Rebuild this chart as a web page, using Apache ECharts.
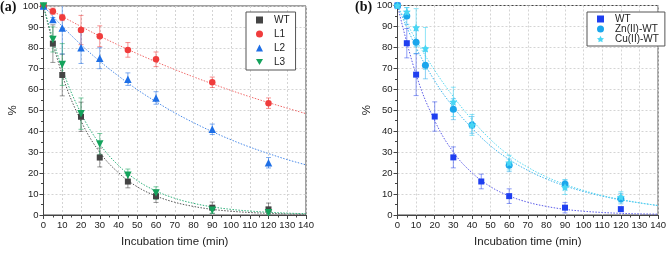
<!DOCTYPE html>
<html>
<head>
<meta charset="utf-8">
<script src="https://cdn.jsdelivr.net/npm/echarts@6/dist/echarts.min.js"></script>
<style>
    html, body { margin: 0; padding: 0; background: #fff; }
    #chart { width: 669px; height: 253px; }
</style>
</head>
<body>
<div id="chart"></div>
<script>
// panel (a)
const timesA = [0, 5, 10, 20, 30, 45, 60, 90, 120];
const wtA = [100, 82, 67, 47, 27.5, 16, 9, 3.5, 2.7];
const wtAErr = [0, 9, 10, 7, 4.5, 3, 3, 2.7, 3];
const l1 = [100, 97.5, 94.5, 88.5, 85.5, 79, 74.5, 63.5, 53.5];
const l1Err = [0, 1.5, 1.5, 7, 5, 3.5, 3.5, 2.5, 2.5];
const l2 = [100, 93.5, 89.5, 80, 75, 65, 56, 41, 25];
const l2Err = [0, 1, 12.5, 7.5, 5, 3, 3, 2.5, 2.5];
const l3 = [100, 84, 72, 48.5, 34, 19, 10.5, 2.3, 1.1];
const l3Err = [0, 6, 10, 7.5, 5, 3, 3, 1.5, 1];

// panel (b)
const timesWtB = [0, 5, 10, 20, 30, 45, 60, 90, 120];
const timesMetal = [0, 5, 10, 15, 30, 40, 60, 90, 120];
const wtB = [100, 82, 67, 47, 27.5, 16, 9, 3.5, 2.8];
const wtBErr = [0, 7, 10, 7, 5, 3.5, 3.5, 2.5, 0];
const zn = [100, 95, 82.5, 71.5, 50.5, 43, 23.7, 14.8, 7.8];
const znErr = [0, 4, 5.5, 6.5, 5, 4, 3, 2, 2.5];
const cu = [100, 97, 89.5, 79.5, 54, 43, 25, 13.3, 8.6];
const cuErr = [0, 2, 9, 10, 7, 5, 3.5, 3.5, 2.5];

// fitted curves, every 10 min
const fitX = [0, 10, 20, 30, 40, 50, 60, 70, 80, 90, 100, 110, 120, 130, 140];
const wtFit = [100, 67, 45, 30, 20.2, 13.5, 9.1, 6.1, 4.1, 2.7, 1.8, 1.2, 0.8, 0.55, 0.4];
const l1Fit = [100, 95, 90.2, 85.6, 81.3, 77.2, 73.3, 69.6, 66.1, 62.8, 59.6, 56.6, 53.8, 51.1, 48.5];
const l2Fit = [100, 90.3, 81.5, 73.6, 66.5, 60, 54.2, 48.9, 44.2, 39.9, 36, 32.5, 29.4, 26.5, 24];
const l3Fit = [100, 70, 48.7, 34, 23.7, 16.5, 11.5, 8, 5.6, 3.9, 2.7, 1.9, 1.3, 0.9, 0.6];
const znFit = [100, 80, 64, 51.5, 41.5, 33, 26.5, 21.3, 17.2, 13.9, 11.2, 9, 7.2, 5.8, 4.5];
const cuFit = [100, 83.5, 69, 56.5, 45.5, 36, 28.5, 22.8, 18.2, 14.6, 11.7, 9.3, 7.4, 5.8, 4.5];

const xTicks = [0, 140, 10];
const yTicks = [0, 100, 10];

const FONT = 'Liberation Sans';
const STAR = 'path://M0,-10 L2.9,-4 9.5,-3.1 4.8,1.5 5.9,8.1 0,5 -5.9,8.1 -4.8,1.5 -9.5,-3.1 -2.9,-4Z';
const DOWN_TRI = 'path://M0,0 L10,0 L5,8.66Z';

const zip = (xs, ys) => xs.map((x, i) => [x, ys[i]]);

const pointSeries = (name, idx, xs, ys, symbol, size, color) => ({
    name, type: 'scatter', xAxisIndex: idx, yAxisIndex: idx,
    data: zip(xs, ys), symbol, symbolSize: size,
    itemStyle: { color, opacity: 1 }, z: 5, silent: true
});

const fitSeries = (idx, ys, color) => ({
    type: 'line', xAxisIndex: idx, yAxisIndex: idx,
    data: zip(fitX, ys), smooth: 0.4, showSymbol: false, symbol: 'none',
    lineStyle: { color, width: 1, type: [1.5, 1.5] }, z: 2, silent: true
});

const errSeries = (idx, xs, ys, errs, color) => ({
    type: 'custom', xAxisIndex: idx, yAxisIndex: idx, silent: true, z: 3, clip: true,
    data: xs.map((x, i) => [x, ys[i] - errs[i], ys[i] + errs[i]]).filter((d, i) => errs[i] > 0),
    encode: { x: 0, y: [1, 2] },
    renderItem: (params, api) => {
        const lo = api.coord([api.value(0), api.value(1)]);
        const hi = api.coord([api.value(0), api.value(2)]);
        const w = 2.5;
        const st = { stroke: color, lineWidth: 1 };
        return {
            type: 'group', children: [
                { type: 'line', shape: { x1: lo[0], y1: lo[1], x2: hi[0], y2: hi[1] }, style: st },
                { type: 'line', shape: { x1: lo[0] - w, y1: lo[1], x2: lo[0] + w, y2: lo[1] }, style: st },
                { type: 'line', shape: { x1: hi[0] - w, y1: hi[1], x2: hi[0] + w, y2: hi[1] }, style: st }
            ]
        };
    }
});

const xAxisOf = (idx) => ({
    gridIndex: idx, type: 'value', min: xTicks[0], max: xTicks[1], interval: xTicks[2],
    name: 'Incubation time (min)', nameLocation: 'middle', nameGap: 21,
    nameTextStyle: { fontFamily: FONT, fontSize: 11.5, color: '#222' },
    axisLine: { show: true, lineStyle: { color: '#444', width: 1 } },
    axisTick: { show: true, length: 4, lineStyle: { color: '#444' } },
    minorTick: { show: true, splitNumber: 2, length: 2.5, lineStyle: { color: '#444' } },
    axisLabel: { fontFamily: FONT, fontSize: 9.5, color: '#222', margin: 5 },
    splitLine: { show: true, lineStyle: { color: '#d4d4d4', type: [2, 2] } }
});

const yAxisOf = (idx) => ({
    gridIndex: idx, type: 'value', min: yTicks[0], max: yTicks[1], interval: yTicks[2],
    name: '%', nameLocation: 'middle', nameGap: 24, nameRotate: 90,
    nameTextStyle: { fontFamily: FONT, fontSize: 11.5, color: '#222' },
    axisLine: { show: true, lineStyle: { color: '#444', width: 1 } },
    axisTick: { show: true, length: 4, lineStyle: { color: '#444' } },
    minorTick: { show: true, splitNumber: 2, length: 2.5, lineStyle: { color: '#444' } },
    axisLabel: { fontFamily: FONT, fontSize: 9.5, color: '#222', margin: 5 },
    splitLine: { show: true, lineStyle: { color: '#d4d4d4', type: [2, 2] } }
});

const legendOf = (names, left, top, gap, pad) => ({
    data: names, orient: 'vertical', left, top,
    itemWidth: 7, itemHeight: 7, itemGap: gap,
    padding: pad,
    borderColor: '#555', borderWidth: 1, borderRadius: 0, backgroundColor: '#fff',
    textStyle: { fontFamily: FONT, fontSize: 10, color: '#222', padding: [0, 0, 0, 6] },
    selectedMode: false
});

const chart = echarts.init(document.getElementById('chart'));
chart.setOption({
    animation: false,
    grid: [
        { left: 43.5, top: 6, width: 262.5, height: 213, show: true, borderColor: '#444', borderWidth: 1 },
        { left: 397.5, top: 5.5, width: 263.5, height: 213, show: true, borderColor: '#444', borderWidth: 1 }
    ],
    xAxis: [xAxisOf(0), xAxisOf(1)],
    yAxis: [yAxisOf(0), yAxisOf(1)],
    legend: [
        legendOf(['WT', 'L1', 'L2', 'L3'], 246, 12, 4, [3, 6, 3, 10]),
        legendOf(['WT ', 'Zn(II)-WT', 'Cu(II)-WT'], 587, 12, 0, [2, 6, 2, 10])
    ],
    graphic: [
        { type: 'text', left: 0, top: 0, style: { text: '(a)', font: 'bold 14px "Liberation Serif"', fill: '#111' } },
        { type: 'text', left: 355, top: 0, style: { text: '(b)', font: 'bold 14px "Liberation Serif"', fill: '#111' } }
    ],
    series: [
        fitSeries(0, wtFit, '#555555'),
        fitSeries(0, l1Fit, '#f06a6a'),
        fitSeries(0, l2Fit, '#4a8ae8'),
        fitSeries(0, l3Fit, '#2fb07a'),
        errSeries(0, timesA, wtA, wtAErr, 'rgba(70,70,70,0.55)'),
        errSeries(0, timesA, l1, l1Err, 'rgba(240,60,60,0.55)'),
        errSeries(0, timesA, l2, l2Err, 'rgba(30,110,230,0.55)'),
        errSeries(0, timesA, l3, l3Err, 'rgba(20,160,90,0.55)'),
        pointSeries('WT', 0, timesA, wtA, 'rect', 6, '#444444'),
        pointSeries('L1', 0, timesA, l1, 'circle', 6.5, '#f03c3c'),
        pointSeries('L2', 0, timesA, l2, 'triangle', 7.5, '#1e6fe6'),
        pointSeries('L3', 0, timesA, l3, DOWN_TRI, 7.5, '#14a35c'),

        fitSeries(1, wtFit, '#5a5ae8'),
        fitSeries(1, znFit, '#3cb4ec'),
        fitSeries(1, cuFit, '#5ad8f0'),
        errSeries(1, timesWtB, wtB, wtBErr, 'rgba(30,60,240,0.5)'),
        errSeries(1, timesMetal, zn, znErr, 'rgba(26,166,236,0.5)'),
        errSeries(1, timesMetal, cu, cuErr, 'rgba(68,212,244,0.6)'),
        pointSeries('WT ', 1, timesWtB, wtB, 'rect', 6, '#1f3ff0'),
        pointSeries('Zn(II)-WT', 1, timesMetal, zn, 'circle', 7, '#1aa6ec'),
        pointSeries('Cu(II)-WT', 1, timesMetal, cu, STAR, 8, '#48d6f4')
    ]
});
</script>
</body>
</html>
